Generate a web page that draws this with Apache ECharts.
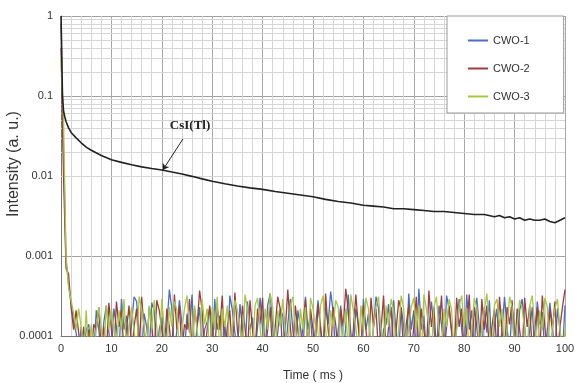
<!DOCTYPE html>
<html>
<head>
<meta charset="utf-8">
<script src="https://cdn.jsdelivr.net/npm/echarts@6/dist/echarts.min.js"></script>
<style>html,body{margin:0;padding:0;background:#fff}#c{width:575px;height:383px}</style>
</head>
<body>
<div id="c"></div>
<script>
// ---- data ----
const xTicks = [0, 10, 20, 30, 40, 50, 60, 70, 80, 90, 100];
const yTickLabels = ['0.0001', '0.001', '0.01', '0.1', '1'];
const seriesNames = ['CWO-1', 'CWO-2', 'CWO-3'];

const csiTime = [0, 0.1, 0.2, 0.3, 0.5, 0.75, 1, 1.5, 2, 3, 4, 5, 6, 8, 10, 12, 14, 16, 18, 20, 22, 24, 26, 28, 30,
  32.5, 35, 37.5, 40, 42.5, 45, 47.5, 50, 52.5, 55, 57.5, 60, 62, 64, 66, 68, 70, 72, 74, 76, 78, 80, 82, 84, 86,
  87, 88, 89, 90, 91, 92, 93, 94, 95, 96, 97, 98, 99, 100];
const csiValue = [1, 0.5, 0.2, 0.1, 0.065, 0.055, 0.048, 0.04, 0.035, 0.03, 0.026, 0.023, 0.021, 0.018, 0.016, 0.0148, 0.0138, 0.013, 0.0124, 0.0119, 0.0112, 0.0106, 0.0099, 0.0092, 0.0086,
  0.008, 0.0075, 0.0071, 0.0068, 0.0064, 0.0061, 0.0058, 0.0055, 0.0051, 0.0048, 0.0046, 0.0043, 0.0042, 0.0041, 0.0039, 0.0039, 0.0038, 0.0037, 0.0036, 0.0036, 0.0035, 0.0034, 0.0033, 0.0033, 0.0031,
  0.0032, 0.0030, 0.0031, 0.0029, 0.0030, 0.0028, 0.0029, 0.0028, 0.0028, 0.0029, 0.0027, 0.0026, 0.0028, 0.0030];

// CWO samples every 0.5 ms from 0 to 100 (values below 1e-4 fall off the axis)
const cwo1 = [
  0.8, 0.02, 9e-4, 4.5e-4, 2.6e-4, 1.5e-4, 1.1e-4, 6e-5, 1.3e-4, 6e-5, 1.2e-4, 1.4e-4, 6e-5, 6e-5, 2.1e-4, 1.2e-4, 6e-5, 1.5e-4, 2.4e-4, 1.1e-4,
  6e-5, 2.2e-4, 1.3e-4, 6e-5, 2.9e-4, 1.2e-4, 1.8e-4, 6e-5, 1.4e-4, 3.1e-4, 2.7e-4, 1.1e-4, 6e-5, 1.9e-4, 1.3e-4, 6e-5, 2.6e-4, 2.1e-4, 6e-5, 1.2e-4,
  1.7e-4, 6e-5, 1.3e-4, 3.8e-4, 2.2e-4, 6e-5, 1.2e-4, 2.8e-4, 1.4e-4, 6e-5, 1.9e-4, 1.1e-4, 3.3e-4, 6e-5, 1.3e-4, 2.3e-4, 6e-5, 1.2e-4, 1.5e-4, 2.2e-4,
  6e-5, 2.9e-4, 1.2e-4, 1.8e-4, 6e-5, 1.4e-4, 6e-5, 3.2e-4, 2.1e-4, 1.1e-4, 6e-5, 2.5e-4, 1.3e-4, 6e-5, 2.7e-4, 1.2e-4, 1.7e-4, 6e-5, 1.3e-4, 3e-4,
  1.2e-4, 6e-5, 2.4e-4, 3.4e-4, 1.3e-4, 6e-5, 1.1e-4, 2.2e-4, 1.8e-4, 6e-5, 1.4e-4, 2.9e-4, 1.2e-4, 6e-5, 2.1e-4, 1.3e-4, 6e-5, 3.1e-4, 1.2e-4, 1.9e-4,
  6e-5, 1.3e-4, 2.8e-4, 1.2e-4, 6e-5, 2.3e-4, 1.4e-4, 3.6e-4, 2e-4, 6e-5, 1.2e-4, 2.4e-4, 6e-5, 1.3e-4, 3.3e-4, 1.1e-4, 6e-5, 2.2e-4, 1.4e-4, 6e-5,
  2.9e-4, 1.2e-4, 1.9e-4, 6e-5, 1.3e-4, 3.1e-4, 2.2e-4, 6e-5, 1.2e-4, 1.4e-4, 2.5e-4, 6e-5, 2.8e-4, 1.1e-4, 6e-5, 2.3e-4, 1.3e-4, 6e-5, 3.4e-4, 1.2e-4,
  2.1e-4, 6e-5, 3.9e-4, 1.2e-4, 1.8e-4, 6e-5, 1.3e-4, 2.7e-4, 1.2e-4, 6e-5, 2.4e-4, 1.4e-4, 6e-5, 3.2e-4, 2.2e-4, 1.1e-4, 6e-5, 1.3e-4, 2.9e-4, 1.2e-4,
  6e-5, 3.3e-4, 1.2e-4, 2.1e-4, 6e-5, 3e-4, 1.3e-4, 6e-5, 2.3e-4, 1.1e-4, 2.8e-4, 6e-5, 1.4e-4, 2.2e-4, 6e-5, 1.2e-4, 3.1e-4, 1.3e-4, 6e-5, 2.4e-4,
  1.2e-4, 6e-5, 2.1e-4, 2.9e-4, 1.3e-4, 6e-5, 1.2e-4, 2.3e-4, 6e-5, 2.7e-4, 1.4e-4, 2e-4, 6e-5, 1.2e-4, 2.6e-4, 1.3e-4, 6e-5, 2.2e-4, 1.2e-4, 6e-5,
  2.4e-4];
const cwo2 = [
  0.4, 0.01, 7e-4, 6e-4, 2.3e-4, 1.2e-4, 2.1e-4, 1.1e-4, 6e-5, 1.3e-4, 6e-5, 1.2e-4, 6e-5, 1.4e-4, 1.2e-4, 2.3e-4, 6e-5, 1.3e-4, 6e-5, 2.6e-4,
  1.2e-4, 6e-5, 2.7e-4, 1.3e-4, 2.1e-4, 6e-5, 1.2e-4, 2.4e-4, 6e-5, 1.3e-4, 2.2e-4, 6e-5, 3.1e-4, 1.2e-4, 6e-5, 2.3e-4, 1.4e-4, 6e-5, 2.8e-4, 2.1e-4,
  1.2e-4, 6e-5, 2.2e-4, 1.3e-4, 6e-5, 3.3e-4, 1.2e-4, 2.4e-4, 6e-5, 1.4e-4, 1.2e-4, 2.9e-4, 6e-5, 2.2e-4, 1.3e-4, 3.7e-4, 2.1e-4, 6e-5, 1.2e-4, 2.4e-4,
  1.3e-4, 6e-5, 2.3e-4, 1.2e-4, 3.2e-4, 6e-5, 1.3e-4, 2.1e-4, 6e-5, 3.5e-4, 1.2e-4, 6e-5, 2.4e-4, 1.3e-4, 6e-5, 2.8e-4, 1.2e-4, 6e-5, 2.2e-4, 1.4e-4,
  3e-4, 6e-5, 1.2e-4, 2.3e-4, 6e-5, 1.3e-4, 3.1e-4, 2.2e-4, 6e-5, 1.2e-4, 3.8e-4, 1.3e-4, 6e-5, 2.4e-4, 1.2e-4, 6e-5, 1.4e-4, 2.9e-4, 6e-5, 2.2e-4,
  1.2e-4, 6e-5, 2.5e-4, 1.3e-4, 6e-5, 3.4e-4, 1.2e-4, 6e-5, 2.3e-4, 1.4e-4, 6e-5, 2.2e-4, 1.3e-4, 3.9e-4, 2.1e-4, 6e-5, 1.2e-4, 3.3e-4, 1.3e-4, 6e-5,
  2.4e-4, 1.2e-4, 6e-5, 3e-4, 1.3e-4, 2.2e-4, 6e-5, 1.2e-4, 3.2e-4, 6e-5, 1.3e-4, 2.3e-4, 6e-5, 1.2e-4, 2.8e-4, 2.1e-4, 6e-5, 1.4e-4, 2.4e-4, 6e-5,
  1.3e-4, 3.1e-4, 6e-5, 2.2e-4, 1.2e-4, 6e-5, 3.7e-4, 1.3e-4, 2.3e-4, 6e-5, 1.2e-4, 3.2e-4, 6e-5, 1.3e-4, 2.4e-4, 1.2e-4, 6e-5, 3e-4, 1.3e-4, 2.2e-4,
  6e-5, 1.2e-4, 3.3e-4, 6e-5, 2.3e-4, 1.3e-4, 6e-5, 2.9e-4, 1.2e-4, 2.4e-4, 6e-5, 1.3e-4, 2.2e-4, 6e-5, 3.1e-4, 1.2e-4, 6e-5, 2.3e-4, 1.4e-4, 2.8e-4,
  6e-5, 2.2e-4, 1.2e-4, 6e-5, 3e-4, 1.3e-4, 2.4e-4, 6e-5, 1.2e-4, 2.3e-4, 6e-5, 3.2e-4, 1.3e-4, 6e-5, 2.2e-4, 1.2e-4, 2.7e-4, 6e-5, 1.3e-4, 2.3e-4,
  3.8e-4];
const cwo3 = [
  0.3, 0.05, 1e-3, 4e-4, 2.8e-4, 1.9e-4, 1.2e-4, 2.2e-4, 1.3e-4, 6e-5, 2.1e-4, 6e-5, 1.4e-4, 6e-5, 1.2e-4, 2.3e-4, 1.3e-4, 6e-5, 2.4e-4, 1.2e-4,
  2.2e-4, 1.3e-4, 6e-5, 2.1e-4, 1.2e-4, 2.9e-4, 6e-5, 1.4e-4, 2.3e-4, 1.2e-4, 6e-5, 3.1e-4, 2.2e-4, 1.3e-4, 6e-5, 2.4e-4, 1.2e-4, 2.8e-4, 1.3e-4, 6e-5,
  2.9e-4, 1.2e-4, 6e-5, 2.3e-4, 1.3e-4, 2.7e-4, 2.1e-4, 6e-5, 1.2e-4, 2.2e-4, 3.2e-4, 1.3e-4, 6e-5, 2.4e-4, 1.2e-4, 6e-5, 2.9e-4, 1.4e-4, 2.2e-4, 6e-5,
  2.3e-4, 1.2e-4, 3.1e-4, 6e-5, 2.2e-4, 1.3e-4, 2.4e-4, 6e-5, 1.2e-4, 2.8e-4, 2.1e-4, 1.3e-4, 6e-5, 3.3e-4, 2.2e-4, 1.2e-4, 6e-5, 2.4e-4, 3e-4, 1.3e-4,
  6e-5, 2.2e-4, 1.2e-4, 3.4e-4, 2.3e-4, 6e-5, 2.1e-4, 1.3e-4, 2.9e-4, 1.2e-4, 6e-5, 2.4e-4, 3.1e-4, 1.3e-4, 6e-5, 2.2e-4, 1.2e-4, 2.3e-4, 6e-5, 3e-4,
  2.2e-4, 1.3e-4, 6e-5, 2.4e-4, 3.2e-4, 1.2e-4, 6e-5, 2.1e-4, 1.3e-4, 2.8e-4, 2.3e-4, 6e-5, 1.2e-4, 2.2e-4, 6e-5, 3.3e-4, 2.1e-4, 1.3e-4, 6e-5, 2.4e-4,
  1.2e-4, 3e-4, 2.2e-4, 6e-5, 1.3e-4, 2.3e-4, 3.1e-4, 1.2e-4, 6e-5, 2.4e-4, 1.3e-4, 2.9e-4, 2.1e-4, 6e-5, 1.2e-4, 3.2e-4, 2.2e-4, 6e-5, 1.3e-4, 2.3e-4,
  3e-4, 1.2e-4, 2.4e-4, 6e-5, 3.3e-4, 2.2e-4, 1.3e-4, 6e-5, 2.3e-4, 3.1e-4, 1.2e-4, 6e-5, 2.2e-4, 1.3e-4, 2.9e-4, 2.1e-4, 6e-5, 1.2e-4, 2.4e-4, 3.2e-4,
  1.3e-4, 2.2e-4, 6e-5, 1.2e-4, 3e-4, 2.3e-4, 6e-5, 1.3e-4, 2.1e-4, 3.4e-4, 1.2e-4, 6e-5, 2.4e-4, 2.9e-4, 1.3e-4, 2.2e-4, 6e-5, 1.2e-4, 3.1e-4, 2.3e-4,
  6e-5, 1.3e-4, 2.8e-4, 2.2e-4, 1.2e-4, 6e-5, 2.4e-4, 3.2e-4, 1.3e-4, 6e-5, 2.1e-4, 1.2e-4, 3e-4, 2.3e-4, 6e-5, 1.3e-4, 2.2e-4, 2.9e-4, 1.2e-4, 6e-5,
  1.2e-4];
const cwoTime = cwo1.map((_, i) => i * 0.5);

// annotation (data coordinates)
const annText = 'CsI(Tl)';
const annTextAt = [25.6, 0.042];
const annArrowFrom = [24.2, 0.029];
const annArrowTo = [20.2, 0.0119];

// ---- chart ----
const FONT = 'Liberation Sans, Arial, sans-serif';
const colors = ['#4a6cc8', '#a33a3f', '#a5c93c'];
const yMinor = [];
[1e-4, 1e-3, 1e-2, 1e-1].forEach(d => { for (let k = 2; k <= 9; k++) yMinor.push(+(d * k).toPrecision(3)); });

const pairs = (xs, ys) => ys.map((v, i) => [xs[i], v]);

const chart = echarts.init(document.getElementById('c'), null, { renderer: 'canvas' });
const option = {
  animation: false,
  backgroundColor: '#fff',
  grid: { left: 61, right: 10, top: 16, bottom: 47, containLabel: false, outerBoundsMode: 'none' },
  legend: {
    data: seriesNames,
    orient: 'vertical',
    left: 447, top: 16,
    z: 100,
    padding: [19, 34, 11, 21],
    itemGap: 17,
    itemWidth: 20, itemHeight: 2,
    icon: 'rect',
    backgroundColor: '#fff',
    borderColor: '#9a9a9a', borderWidth: 1,
    textStyle: { fontFamily: FONT, fontSize: 11, color: '#333' }
  },
  xAxis: {
    type: 'value', min: 0, max: 100, interval: 10,
    name: 'Time ( ms )', nameLocation: 'middle', nameGap: 34, nameMoveOverlap: false,
    nameTextStyle: { fontFamily: FONT, fontSize: 12, color: '#333' },
    axisLine: { lineStyle: { color: '#777', width: 1 } },
    axisTick: { show: false },
    axisLabel: { fontFamily: FONT, fontSize: 11, color: '#333', margin: 7,
      formatter: v => xTicks.includes(v) ? String(v) : '' },
    splitLine: { show: true, lineStyle: { color: '#a8a8a8', width: 1 } },
    minorTick: { show: false, splitNumber: 5 },
    minorSplitLine: { show: true, lineStyle: { color: '#d6d6d6', width: 1 } }
  },
  yAxis: {
    type: 'log', logBase: 10, min: 0.0001, max: 1,
    name: 'Intensity (a. u.)', nameLocation: 'middle', nameGap: 39, nameMoveOverlap: false,
    nameTextStyle: { fontFamily: FONT, fontSize: 16, color: '#333', padding: [0, 0, 0, 24] },
    axisLine: { show: true, lineStyle: { color: '#777', width: 1 } },
    axisTick: { show: false },
    axisLabel: { fontFamily: FONT, fontSize: 11, color: '#333', margin: 8,
      formatter: v => { const e = Math.round(Math.log10(v)); return yTickLabels[e + 4]; } },
    splitLine: { show: true, lineStyle: { color: '#a0a0a0', width: 1 } }
  },
  series: [
    {
      name: 'grid-minor', type: 'line', data: [], silent: true, z: 1,
      markLine: {
        silent: true, symbol: ['none', 'none'], animation: false, z: 1,
        label: { show: false },
        lineStyle: { color: '#d6d6d6', width: 1, type: 'solid' },
        data: yMinor.map(v => ({ yAxis: v }))
      }
    },
    {
      name: 'CsI(Tl)', type: 'line', data: pairs(csiTime, csiValue),
      showSymbol: false, symbol: 'none', z: 3,
      lineStyle: { color: '#222', width: 1.6 },
      markLine: {
        silent: true, symbol: ['none', 'arrow'], symbolSize: 6, animation: false,
        label: { show: false },
        lineStyle: { color: '#222', width: 1, type: 'solid' },
        data: [[{ coord: annArrowFrom }, { coord: annArrowTo }]]
      },
      markPoint: {
        silent: true, symbol: 'circle', symbolSize: 0, animation: false,
        label: { show: true, formatter: annText, position: 'inside',
          fontFamily: 'Liberation Serif, Times New Roman, serif', fontWeight: 'bold', fontSize: 13, color: '#222' },
        data: [{ coord: annTextAt }]
      }
    },
    ...seriesNames.map((n, k) => ({
      name: n, type: 'line', data: pairs(cwoTime, [cwo1, cwo2, cwo3][k]),
      showSymbol: false, symbol: 'none', z: 2,
      lineStyle: { color: colors[k], width: 1.3 },
      itemStyle: { color: colors[k] }
    }))
  ]
};
chart.setOption(option);
</script>
</body>
</html>
